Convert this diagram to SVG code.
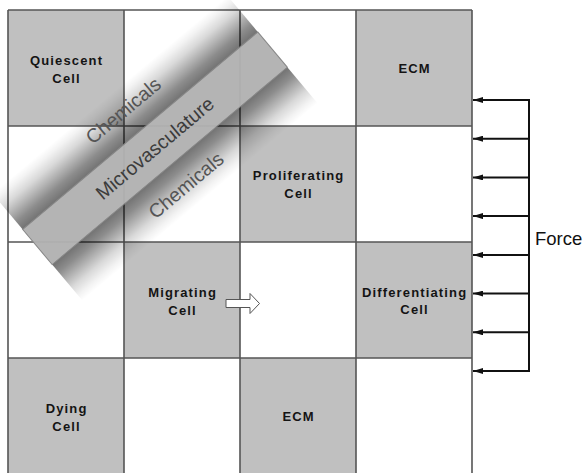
<svg xmlns="http://www.w3.org/2000/svg" width="583" height="473" viewBox="0 0 583 473">
  <style>
    .cell-g { fill: #c0c0c0; stroke: none; }
    .grid { stroke: #555555; stroke-width: 1.6; fill: none; }
    .lbl { font-family: "Liberation Sans", Arial, sans-serif; font-weight: bold; font-size: 13px; letter-spacing: 1.15px; fill: #141414; text-anchor: middle; }
    .band { fill: #bababa; stroke: #888888; stroke-width: 1; opacity: 0.92; }
    .chem { font-family: "Liberation Sans", Arial, sans-serif; font-size: 19.5px; fill: #555555; text-anchor: middle; }
    .micro { font-family: "Liberation Sans", Arial, sans-serif; font-size: 19.5px; fill: #3c3c3c; text-anchor: middle; }
    .force { stroke: #111111; stroke-width: 2; fill: none; }
    .force-lbl { font-family: "Liberation Sans", Arial, sans-serif; font-size: 18.5px; fill: #111111; }
  </style>
  <defs>
    <linearGradient id="shadowGrad" x1="0" y1="0" x2="0" y2="1">
      <stop offset="0" stop-color="#000" stop-opacity="0"/>
      <stop offset="0.05" stop-color="#000" stop-opacity="0.05"/>
      <stop offset="0.121" stop-color="#000" stop-opacity="0.15"/>
      <stop offset="0.193" stop-color="#000" stop-opacity="0.3"/>
      <stop offset="0.264" stop-color="#000" stop-opacity="0.45"/>
      <stop offset="0.336" stop-color="#000" stop-opacity="0.55"/>
      <stop offset="0.664" stop-color="#000" stop-opacity="0.55"/>
      <stop offset="0.736" stop-color="#000" stop-opacity="0.45"/>
      <stop offset="0.807" stop-color="#000" stop-opacity="0.3"/>
      <stop offset="0.879" stop-color="#000" stop-opacity="0.15"/>
      <stop offset="0.95" stop-color="#000" stop-opacity="0.05"/>
      <stop offset="1" stop-color="#000" stop-opacity="0"/>
    </linearGradient>
    <marker id="ah" viewBox="0 0 10 6" refX="10" refY="3" markerWidth="10" markerHeight="6" markerUnits="userSpaceOnUse" orient="auto">
      <path d="M0,0 L10,3 L0,6 z" fill="#111111"/>
    </marker>
  </defs>

  <rect x="0" y="0" width="583" height="473" fill="#ffffff"/>

  <g id="cells">
    <g id="quiescent-cell">
      <rect class="cell-g" x="8" y="10" width="116" height="116"/>
      <text class="lbl" x="66.6" y="64.5">Quiescent</text>
      <text class="lbl" x="66.6" y="83">Cell</text>
    </g>
    <g id="ecm-top">
      <rect class="cell-g" x="356" y="10" width="116" height="116"/>
      <text class="lbl" x="414.6" y="73">ECM</text>
    </g>
    <g id="proliferating-cell">
      <rect class="cell-g" x="240" y="126" width="116" height="116"/>
      <text class="lbl" x="298.6" y="180">Proliferating</text>
      <text class="lbl" x="298.6" y="198">Cell</text>
    </g>
    <g id="migrating-cell">
      <rect class="cell-g" x="124" y="242" width="116" height="116"/>
      <text class="lbl" x="182.6" y="296.5">Migrating</text>
      <text class="lbl" x="182.6" y="315">Cell</text>
    </g>
    <g id="differentiating-cell">
      <rect class="cell-g" x="356" y="242" width="116" height="116"/>
      <text class="lbl" x="414.6" y="296.5">Differentiating</text>
      <text class="lbl" x="414.6" y="314">Cell</text>
    </g>
    <g id="dying-cell">
      <rect class="cell-g" x="8" y="358" width="116" height="116"/>
      <text class="lbl" x="66.6" y="413">Dying</text>
      <text class="lbl" x="66.6" y="431">Cell</text>
    </g>
    <g id="ecm-bottom">
      <rect class="cell-g" x="240" y="358" width="116" height="116"/>
      <text class="lbl" x="298.6" y="421">ECM</text>
    </g>
  </g>

  <g id="grid">
    <path class="grid" d="M8,10 V474 M124,10 V474 M240,10 V474 M356,10 V474 M472,10 V474 M8,10 H472 M8,126 H472 M8,242 H472 M8,358 H472"/>
  </g>

  <g id="microvasculature" transform="translate(155,148.3) rotate(-40)">
    <rect x="-153.5" y="-70" width="307" height="140" fill="url(#shadowGrad)"/>
    <rect class="band" x="-153.5" y="-23" width="307" height="46"/>
    <text class="chem" x="0" y="-42.5">Chemicals</text>
    <text class="micro" x="0" y="6.5">Microvasculature</text>
    <text class="chem" x="0" y="55">Chemicals</text>
  </g>

  <g id="migration-arrow">
    <polygon points="226,299.5 250,299.5 250,293.5 259.5,303.5 250,313.5 250,307.5 226,307.5" fill="#ffffff" stroke="#555555" stroke-width="1"/>
  </g>

  <g id="connectors">
    <path class="force" d="M529,100 V371"/>
    <line class="force" x1="530" y1="100" x2="473" y2="100" marker-end="url(#ah)"/>
    <line class="force" x1="529" y1="138.7" x2="473" y2="138.7" marker-end="url(#ah)"/>
    <line class="force" x1="529" y1="177.4" x2="473" y2="177.4" marker-end="url(#ah)"/>
    <line class="force" x1="529" y1="216.1" x2="473" y2="216.1" marker-end="url(#ah)"/>
    <line class="force" x1="529" y1="254.9" x2="473" y2="254.9" marker-end="url(#ah)"/>
    <line class="force" x1="529" y1="293.6" x2="473" y2="293.6" marker-end="url(#ah)"/>
    <line class="force" x1="529" y1="332.3" x2="473" y2="332.3" marker-end="url(#ah)"/>
    <line class="force" x1="530" y1="371" x2="473" y2="371" marker-end="url(#ah)"/>
  </g>

  <g id="force-label">
    <text class="force-lbl" x="535" y="245">Force</text>
  </g>
</svg>
